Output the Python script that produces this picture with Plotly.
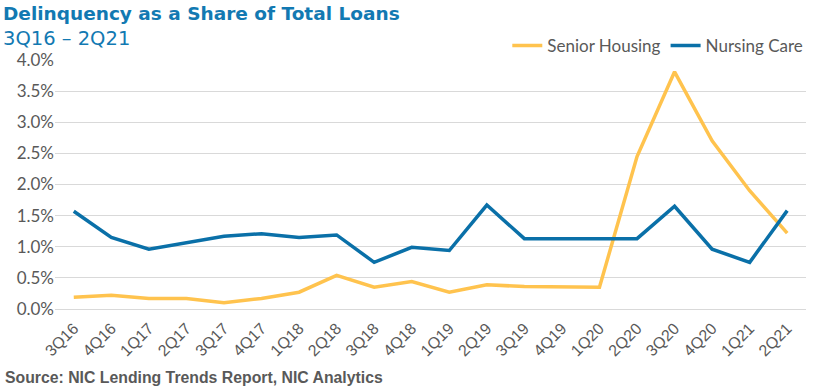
import plotly.graph_objects as go

quarters = ["3Q16", "4Q16", "1Q17", "2Q17", "3Q17", "4Q17", "1Q18", "2Q18", "3Q18", "4Q18",
            "1Q19", "2Q19", "3Q19", "4Q19", "1Q20", "2Q20", "3Q20", "4Q20", "1Q21", "2Q21"]
senior_housing = [0.19, 0.22, 0.17, 0.17, 0.10, 0.17, 0.27, 0.54, 0.35, 0.44,
                  0.27, 0.39, 0.36, 0.36, 0.35, 2.45, 3.81, 2.70, 1.90, 1.22]
nursing_care = [1.57, 1.15, 0.96, 1.07, 1.17, 1.21, 1.15, 1.19, 0.75, 0.99,
                0.94, 1.67, 1.13, 1.13, 1.13, 1.13, 1.65, 0.96, 0.75, 1.58]
y_ticks = [0.0, 0.5, 1.0, 1.5, 2.0, 2.5, 3.0, 3.5, 4.0]

fig = go.Figure()
fig.add_trace(go.Scatter(x=quarters, y=[v / 100 for v in senior_housing], mode="lines",
                         name="Senior Housing", line=dict(color="#FFC34E", width=3.5)))
fig.add_trace(go.Scatter(x=quarters, y=[v / 100 for v in nursing_care], mode="lines",
                         name="Nursing Care", line=dict(color="#0A70A8", width=3.5)))

fig.update_layout(
    width=814, height=391,
    margin=dict(l=55, r=8, t=60, b=82, autoexpand=False),
    paper_bgcolor="white", plot_bgcolor="white",
    font=dict(family="Lato, Liberation Sans, sans-serif", color="#595959", size=16),
    showlegend=True,
    legend=dict(orientation="h", x=0.993, xanchor="right", xref="container",
                y=1 - 46 / 391, yanchor="middle", yref="container",
                font=dict(size=17, color="#595959"), bgcolor="rgba(0,0,0,0)",
                traceorder="normal", itemwidth=30),
    xaxis=dict(type="category", range=[-0.5, 19.5], tickangle=-45, showgrid=False,
               showline=False, ticks="", automargin=False, ticklabelstandoff=6,
               tickfont=dict(family="Liberation Sans, Arial, sans-serif", size=16,
                             color="#595959")),
    yaxis=dict(range=[0, 0.04], tickvals=[v / 100 for v in y_ticks], tickformat=".1%",
               showgrid=True, gridcolor="#D9D9D9", gridwidth=1, zeroline=True,
               zerolinecolor="#D9D9D9", zerolinewidth=1, showline=False, ticks="",
               automargin=False, tickfont=dict(size=17, color="#595959")),
    annotations=[
        dict(text="<b>Delinquency as a Share of Total Loans</b>", xref="paper", yref="paper",
             x=0, y=1, xanchor="left", yanchor="bottom", xshift=-54, yshift=34, showarrow=False,
             font=dict(family="DejaVu Sans, sans-serif", size=18.5, color="#1279B2")),
        dict(text="3Q16 – 2Q21", xref="paper", yref="paper",
             x=0, y=1, xanchor="left", yanchor="bottom", xshift=-54, yshift=8, showarrow=False,
             font=dict(family="DejaVu Sans, sans-serif", size=19.5, color="#1279B2")),
        dict(text="<b>Source: NIC Lending Trends Report, NIC Analytics</b>", xref="paper", yref="paper",
             x=0, y=0, xanchor="left", yanchor="top", xshift=-52, yshift=-58, showarrow=False,
             font=dict(family="Liberation Sans, Arial, sans-serif", size=15.8, color="#595959")),
    ],
)

fig.write_html("out.html", config={"displayModeBar": False},
               post_script="document.body.style.margin='0px';")
